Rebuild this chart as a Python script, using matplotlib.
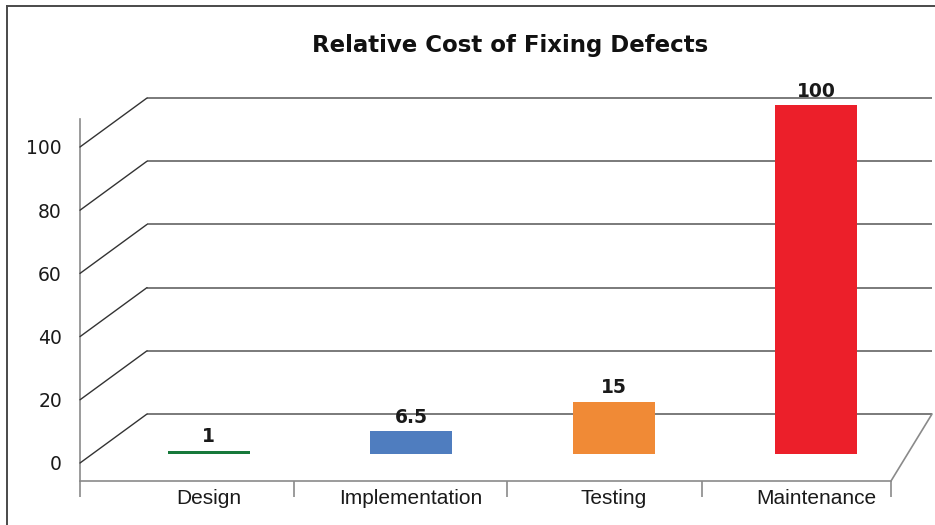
import matplotlib
matplotlib.use("Agg")
import matplotlib.pyplot as plt
from matplotlib.lines import Line2D
from matplotlib.patches import ConnectionPatch
from matplotlib.transforms import ScaledTranslation

# ---- data ----
categories = ["Design", "Implementation", "Testing", "Maintenance"]
values = [1, 6.5, 15, 100]
bar_colors = ["#17793b", "#4f7dbf", "#f08a36", "#ec1f2a"]
y_ticks = [0, 20, 40, 60, 80, 100]

# ---- layout (pixels) ----
W, H = 935, 525
DPI = 100
FRONT_LEFT, FRONT_RIGHT = 80, 891      # front edge of the floor
FRONT_TOP, FRONT_BOTTOM = 119, 481     # value axis extent
FRONT_ZERO = 463                       # pixel row of value 0 on the value axis
PX_PER_UNIT = 3.16                     # wall scale
DEPTH_DX, DEPTH_DY = 67, 49            # offset from front plane to back wall
BACK_RIGHT = 932                       # right end of back wall
SEPARATORS = [80, 294, 507, 702, 891]  # category divider ticks on the floor edge
BAR_BASE = 454                         # bar baseline
BAR_PX_PER_UNIT = 3.49                 # bar scale
BAR_AX_TOP = 60
CAT_STEP = 202.6
CAT_FIRST = 208.5
GRID = "#6f6f6f"
TXT = "#1a1a1a"


def frac(x, y_top, w, h):
    return [x / W, 1 - (y_top + h) / H, w / W, h / H]


def front_x(px):
    return -0.5 + (px - FRONT_LEFT) / (FRONT_RIGHT - FRONT_LEFT) * len(categories)


fig = plt.figure(figsize=(W / DPI, H / DPI), dpi=DPI)
fig.patch.set_facecolor("white")

# outer frame
fig.add_artist(Line2D([7 / W, 7 / W], [0, 1 - 6 / H], color="#4a4a4a", lw=1.4))
fig.add_artist(Line2D([7 / W, 1], [1 - 6 / H, 1 - 6 / H], color="#4a4a4a", lw=1.4))

# ---- wall / floor axes ----
ax = fig.add_axes(frac(FRONT_LEFT, FRONT_TOP, FRONT_RIGHT - FRONT_LEFT,
                       FRONT_BOTTOM - FRONT_TOP))
ax.set_facecolor("none")
ax.set_xlim(-0.5, len(categories) - 0.5)
ax.set_ylim((FRONT_ZERO - FRONT_BOTTOM) / PX_PER_UNIT,
            (FRONT_ZERO - FRONT_TOP) / PX_PER_UNIT)
for side in ("top", "right"):
    ax.spines[side].set_visible(False)
for side in ("left", "bottom"):
    ax.spines[side].set_color("#8a8a8a")
    ax.spines[side].set_linewidth(1.2)

ax.set_yticks(y_ticks)
ax.set_yticklabels([str(t) for t in y_ticks], fontsize=13.5,
                   family="DejaVu Sans", color=TXT)
ax.tick_params(axis="y", length=0, pad=13)
ax.set_xticks([])
ax.set_xticks([front_x(p) for p in SEPARATORS], minor=True)
ax.tick_params(axis="x", which="minor", length=11.5, width=1.2,
               color="#8a8a8a", direction="out")

back = ax.transData + ScaledTranslation(DEPTH_DX / DPI, DEPTH_DY / DPI,
                                        fig.dpi_scale_trans)
x_lo = -0.5
x_back_end = front_x(BACK_RIGHT - DEPTH_DX)

for v in y_ticks:
    ax.plot([x_lo, x_back_end], [v, v], color=GRID, lw=1.3,
            transform=back, clip_on=False, solid_capstyle="butt")
    con = ConnectionPatch((x_lo, v), (x_lo, v), coordsA=ax.transData,
                          coordsB=back, color="#333333", lw=1.0)
    fig.add_artist(con)

# right edge of the floor
y_floor = ax.get_ylim()[0]
edge = ConnectionPatch((len(categories) - 0.5, y_floor), (x_back_end, 0),
                       coordsA=ax.transData, coordsB=back,
                       color="#8a8a8a", lw=1.2)
fig.add_artist(edge)

# ---- bars ----
axb_left = CAT_FIRST - CAT_STEP / 2
axb = fig.add_axes(frac(axb_left, BAR_AX_TOP, CAT_STEP * len(categories),
                        BAR_BASE - BAR_AX_TOP))
axb.set_facecolor("none")
axb.set_xlim(-0.5, len(categories) - 0.5)
axb.set_ylim(0, (BAR_BASE - BAR_AX_TOP) / BAR_PX_PER_UNIT)
for s in axb.spines.values():
    s.set_visible(False)
axb.set_yticks([])

x = list(range(len(categories)))
axb.bar(x, values, width=82 / CAT_STEP, color=bar_colors, edgecolor="none")
for xi, v in zip(x, values):
    axb.annotate(f"{v:g}", (xi, v), xytext=(0, 3), textcoords="offset points",
                 ha="center", va="bottom", fontsize=13.5, fontweight="bold",
                 family="DejaVu Sans", color=TXT)

axb.set_xticks(x)
axb.set_xticklabels(categories, fontsize=15, family="Liberation Sans", color=TXT)
axb.tick_params(axis="x", length=0, pad=25)

# ---- title ----
fig.text(510 / W, 1 - 52 / H, "Relative Cost of Fixing Defects",
         ha="center", va="baseline", fontsize=16.5, fontweight="bold",
         family="DejaVu Sans", color="#111111")

fig.savefig("out.png", dpi=DPI, facecolor="white")
